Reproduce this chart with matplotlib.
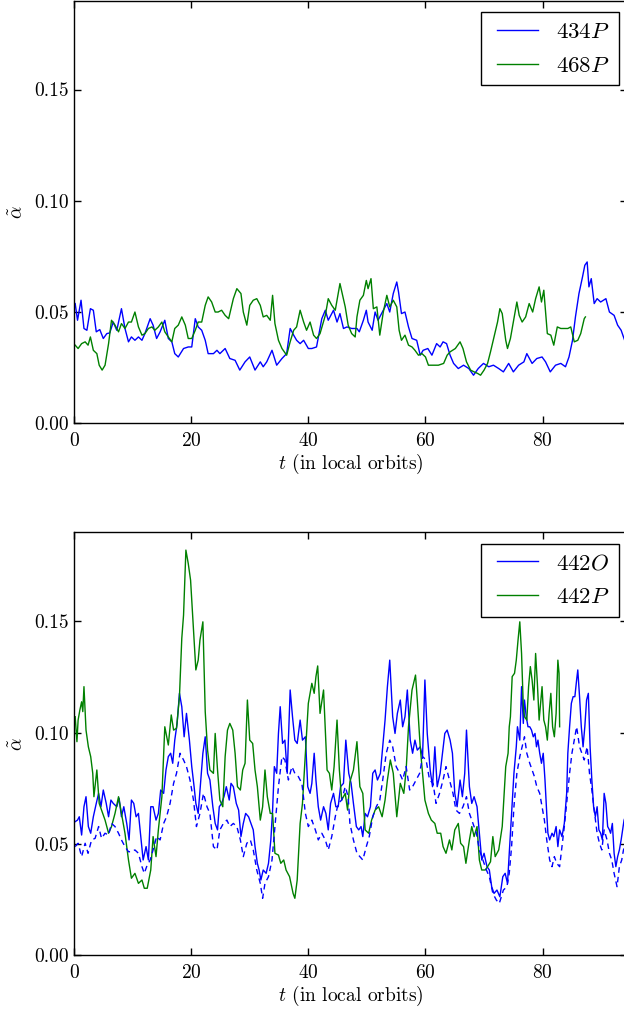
import numpy as np
import matplotlib
matplotlib.use('Agg')
import matplotlib.pyplot as plt
from matplotlib.ticker import FormatStrFormatter
from matplotlib.legend_handler import HandlerLine2D
from matplotlib.lines import Line2D

plt.rcParams['font.family'] = 'serif'
plt.rcParams['font.serif'] = ['cmr10']
plt.rcParams['mathtext.fontset'] = 'cm'
plt.rcParams['axes.formatter.use_mathtext'] = True

# ---- top panel: 434P and 468P ----
t_434 = [0.2,0.6,1.2,1.7,2.2,2.8,3.3,3.8,4.4,5.0,
         5.6,6.1,6.7,7.3,8.1,8.7,9.3,9.8,10.4,11.0,
         11.6,12.1,13.0,13.5,14.1,14.7,15.5,16.1,16.7,17.2,
         17.8,18.7,19.5,20.1,20.7,21.2,21.8,22.4,22.9,23.8,
         24.4,24.9,25.8,26.6,27.5,28.3,29.2,30.0,30.9,31.8,
         32.3,32.9,33.8,34.6,35.5,36.3,36.9,37.5,38.0,38.6,
         39.2,40.0,40.6,41.4,42.3,42.9,43.4,44.3,44.9,45.4,
         46.0,46.6,47.4,48.3,48.7,49.4,49.9,50.2,50.9,51.4,
         51.9,52.5,53.4,53.9,54.5,55.1,55.4,55.9,56.5,57.1,
         57.7,58.5,59.1,59.6,60.4,61.1,61.9,62.5,63.0,63.6,
         64.2,64.8,65.6,66.5,67.4,68.2,69.0,69.9,70.8,71.6,
         72.5,73.3,74.2,75.0,75.9,76.8,77.3,78.2,79.0,79.9,
         80.5,81.3,82.2,83.1,83.9,84.5,85.1,85.6,86.2,86.8,
         87.2,87.6,87.9,88.3,88.8,89.3,89.9,90.8,91.4,92.2,
         92.8,93.4,94.0,94.5]
a_434 = [.0538,.0463,.0553,.0426,.0418,.0515,.0508,.0411,.0421,.0381,
         .0403,.0406,.0455,.0418,.0515,.0426,.0366,.0388,.0373,.0388,
         .0373,.0403,.0470,.0441,.0381,.0411,.0463,.0381,.0366,.0313,
         .0298,.0336,.0343,.0343,.0470,.0433,.0418,.0373,.0313,.0313,
         .0328,.0313,.0336,.0291,.0283,.0239,.0276,.0298,.0239,.0276,
         .0254,.0276,.0328,.0261,.0291,.0313,.0426,.0396,.0373,.0358,
         .0373,.0336,.0336,.0343,.0470,.0508,.0463,.0508,.0455,.0493,
         .0426,.0433,.0426,.0426,.0411,.0463,.0508,.0455,.0418,.0500,
         .0463,.0493,.0538,.0500,.0583,.0635,.0590,.0493,.0500,.0433,
         .0381,.0373,.0306,.0328,.0336,.0306,.0358,.0343,.0366,.0358,
         .0306,.0269,.0246,.0261,.0246,.0216,.0246,.0269,.0254,.0261,
         .0246,.0231,.0269,.0231,.0261,.0276,.0313,.0269,.0291,.0298,
         .0276,.0231,.0261,.0269,.0254,.0298,.0373,.0478,.0583,.0657,
         .0710,.0725,.0613,.0650,.0538,.0560,.0545,.0560,.0500,.0485,
         .0441,.0418,.0373,.0360]

t_468 = [0.2,0.7,1.3,1.9,2.4,2.8,3.3,3.9,4.3,4.8,
         5.3,5.9,6.4,7.0,7.6,8.1,8.7,9.3,9.8,10.4,
         11.0,11.6,12.1,12.7,13.3,13.8,14.4,15.0,15.5,16.1,
         16.7,17.2,17.8,18.4,19.0,19.5,20.1,20.7,21.2,21.8,
         22.4,22.9,23.5,24.1,24.6,25.2,25.8,26.4,27.2,27.8,
         28.5,28.9,29.5,30.0,30.6,31.2,31.8,32.3,32.9,33.5,
         33.9,34.3,34.9,35.5,36.3,36.9,37.5,38.0,38.6,39.2,
         39.7,40.3,40.9,41.4,42.0,42.9,43.4,44.0,44.6,45.4,
         46.3,46.8,47.4,48.0,48.3,48.8,49.4,49.9,50.2,50.7,
         51.1,51.7,52.2,52.8,53.4,53.9,54.5,55.1,55.5,55.9,
         56.5,57.1,57.7,58.2,58.8,59.4,60.0,60.5,61.4,62.2,
         63.1,63.7,64.2,65.1,65.9,66.4,67.0,67.7,68.3,68.9,
         69.4,70.0,70.6,71.1,71.7,72.3,72.7,73.1,73.7,74.0,
         74.5,75.1,75.6,76.0,76.5,77.1,77.7,78.3,78.8,79.4,
         79.8,80.2,80.8,81.4,81.9,82.5,83.1,83.7,84.3,84.8,
         85.4,86.0,86.5,87.1,87.3]
a_468 = [.0351,.0336,.0358,.0366,.0351,.0388,.0328,.0313,.0261,.0239,
         .0261,.0358,.0463,.0441,.0411,.0448,.0426,.0455,.0455,.0500,
         .0433,.0396,.0403,.0426,.0433,.0418,.0433,.0455,.0411,.0388,
         .0366,.0426,.0441,.0478,.0441,.0381,.0381,.0418,.0455,.0455,
         .0530,.0568,.0545,.0500,.0500,.0508,.0485,.0470,.0560,.0605,
         .0583,.0500,.0441,.0530,.0553,.0560,.0530,.0478,.0485,.0463,
         .0575,.0448,.0373,.0336,.0306,.0366,.0418,.0433,.0508,.0455,
         .0418,.0455,.0396,.0381,.0403,.0485,.0560,.0530,.0508,.0628,
         .0523,.0441,.0403,.0388,.0478,.0553,.0575,.0642,.0605,.0650,
         .0515,.0523,.0396,.0500,.0575,.0523,.0553,.0523,.0418,.0373,
         .0396,.0351,.0343,.0328,.0306,.0313,.0298,.0261,.0261,.0261,
         .0269,.0306,.0321,.0336,.0366,.0336,.0276,.0239,.0231,.0224,
         .0216,.0239,.0269,.0321,.0388,.0455,.0515,.0493,.0373,.0336,
         .0381,.0470,.0545,.0485,.0455,.0478,.0538,.0500,.0560,.0613,
         .0545,.0598,.0403,.0396,.0351,.0433,.0426,.0426,.0426,.0433,
         .0366,.0373,.0403,.0470,.0478]

# ---- bottom panel: 442O (solid + dashed) and 442P ----
t_442o = [0.2,0.6,0.9,1.3,1.7,2.05,2.45,2.85,3.3,3.8,
          4.2,4.6,5.0,5.5,5.9,6.3,6.7,7.3,7.7,8.1,
          8.5,9.0,9.4,9.8,10.2,10.6,11.0,11.4,11.8,12.3,
          12.7,13.1,13.5,14.0,14.4,14.8,15.3,15.7,16.1,16.5,
          16.85,17.2,17.6,18.0,18.4,18.8,19.2,19.7,20.1,20.5,
          20.8,21.2,21.6,22.0,22.4,22.8,23.2,23.7,24.1,24.5,
          24.8,25.2,25.6,26.0,26.5,26.8,27.2,27.7,28.1,28.5,
          28.9,29.3,29.8,30.2,30.6,30.9,31.3,31.6,31.9,32.3,
          32.8,33.2,33.6,33.9,34.2,34.6,34.9,35.2,35.6,36.0,
          36.4,36.9,37.3,37.7,38.1,38.6,39.0,39.5,39.9,40.3,
          40.6,41.0,41.3,41.7,42.1,42.6,43.0,43.4,43.8,44.3,
          44.7,45.1,45.5,46.0,46.4,46.9,47.3,47.7,48.2,48.6,
          49.0,49.3,49.7,50.1,50.6,51.0,51.4,51.8,52.3,52.7,
          53.1,53.5,53.9,54.4,54.8,55.2,55.7,56.1,56.5,56.9,
          57.4,57.8,58.2,58.6,59.1,59.5,59.9,60.3,60.8,61.2,
          61.6,62.0,62.5,62.9,63.3,63.7,64.2,64.6,65.0,65.4,
          65.9,66.3,66.7,67.0,67.5,67.9,68.3,68.8,69.2,69.6,
          70.0,70.5,70.9,71.3,71.7,72.2,72.7,73.2,73.6,74.0,
          74.3,74.7,75.1,75.5,75.7,76.1,76.4,76.7,76.9,77.2,
          77.5,77.8,78.1,78.4,78.7,78.95,79.2,79.5,79.8,80.1,
          80.4,80.7,80.9,81.2,81.6,81.9,82.3,82.6,82.9,83.3,
          83.7,84.1,84.3,84.6,84.9,85.2,85.5,85.8,86.0,86.3,
          86.6,86.9,87.2,87.5,87.8,88.1,88.4,88.7,89.0,89.3,
          89.6,89.9,90.2,90.5,90.8,91.1,91.4,91.6,91.9,92.2,
          92.5,92.8,93.1,93.4,93.9,94.5]
a_442o = [.0600,.0607,.0622,.0540,.0667,.0712,.0578,.0548,.0622,.0682,
          .0727,.0667,.0742,.0682,.0622,.0697,.0682,.0667,.0705,.0622,
          .0667,.0592,.0518,.0697,.0682,.0622,.0637,.0533,.0428,.0488,
          .0428,.0667,.0667,.0607,.0637,.0742,.0727,.0832,.0892,.0907,
          .0862,.0966,.1041,.1176,.1116,.0981,.1086,.0966,.0847,.0757,
          .0682,.0637,.0772,.0907,.0981,.0817,.0787,.0667,.0592,.0563,
          .0667,.0682,.0712,.0757,.0697,.0772,.0757,.0682,.0652,.0533,
          .0592,.0637,.0622,.0592,.0563,.0488,.0413,.0383,.0338,.0383,
          .0368,.0413,.0518,.0652,.0847,.0817,.0996,.1116,.0951,.0966,
          .0817,.1191,.1071,.0966,.0951,.1056,.0966,.0981,.0757,.0727,
          .0772,.0907,.0787,.0667,.0607,.0667,.0637,.0563,.0682,.0727,
          .0667,.0667,.0757,.0772,.0966,.0817,.0772,.0682,.0578,.0563,
          .0578,.0533,.0637,.0622,.0667,.0817,.0832,.0787,.0817,.0936,
          .1056,.1206,.1325,.1071,.0996,.1086,.1146,.1026,.1071,.1191,
          .0966,.0907,.0966,.0921,.0936,.0892,.1236,.0996,.0832,.0757,
          .0936,.0757,.0817,.0907,.0996,.1011,.0966,.0907,.0727,.0667,
          .0787,.0712,.0817,.1011,.0757,.0682,.0712,.0667,.0548,.0428,
          .0458,.0398,.0383,.0308,.0278,.0293,.0263,.0353,.0368,.0323,
          .0458,.0637,.0817,.0936,.1026,.0966,.1206,.1041,.1146,.1071,
          .1026,.1026,.1011,.0981,.0996,.0936,.0966,.0907,.0862,.0907,
          .0787,.0637,.0548,.0518,.0548,.0533,.0578,.0488,.0563,.0533,
          .0592,.0727,.0907,.1026,.1131,.1161,.1161,.1236,.1281,.1161,
          .1026,.0936,.1026,.1146,.1176,.0936,.0787,.0667,.0622,.0667,
          .0563,.0548,.0518,.0727,.0682,.0578,.0563,.0548,.0592,.0458,
          .0398,.0443,.0473,.0518,.0607,.0650]

t_442o_d = [0.2,0.7,1.3,1.9,2.4,3.0,3.6,4.2,4.7,5.3,
            5.9,6.4,7.0,7.6,8.1,8.7,9.3,9.8,10.4,11.0,
            11.6,12.0,12.4,13.0,13.5,14.1,14.7,15.3,15.8,16.4,
            17.0,17.5,18.1,18.7,19.2,19.8,20.4,20.9,21.5,22.1,
            22.7,23.2,23.8,24.4,24.9,25.5,26.1,26.6,27.2,27.8,
            28.4,28.9,29.5,30.1,30.6,31.2,31.8,32.2,32.6,33.2,
            33.8,34.3,34.9,35.5,36.0,36.6,37.2,37.7,38.3,38.9,
            39.5,40.0,40.6,41.2,41.7,42.3,42.9,43.4,44.0,44.6,
            45.1,45.7,46.3,46.8,47.1,47.7,48.3,48.8,49.3,49.9,
            50.4,51.0,51.6,52.2,52.7,53.3,53.9,54.4,55.0,55.6,
            56.1,56.7,57.3,57.8,58.4,59.0,59.5,60.1,60.7,61.3,
            61.8,62.4,63.0,63.5,64.1,64.7,65.2,65.8,66.4,67.0,
            67.5,68.1,68.7,69.2,69.8,70.4,70.9,71.5,72.1,72.6,
            73.3,73.9,74.3,74.7,75.1,75.6,76.1,76.5,76.9,77.3,
            77.8,78.2,78.6,79.0,79.5,79.9,80.3,80.7,81.2,81.6,
            82.0,82.4,82.9,83.3,83.7,84.1,84.6,85.0,85.4,85.8,
            86.3,86.7,87.1,87.6,88.0,88.4,88.8,89.3,89.7,90.1,
            90.5,91.0,91.4,91.8,92.2,92.7,93.1,93.5,93.8,94.5]
a_442o_d = [.0488,.0503,.0443,.0503,.0458,.0518,.0525,.0578,.0525,.0548,
            .0540,.0592,.0578,.0548,.0518,.0488,.0465,.0465,.0473,.0458,
            .0398,.0368,.0398,.0428,.0473,.0533,.0518,.0592,.0622,.0682,
            .0772,.0817,.0907,.0877,.0847,.0787,.0697,.0578,.0637,.0727,
            .0667,.0637,.0488,.0473,.0563,.0592,.0607,.0578,.0592,.0578,
            .0518,.0443,.0503,.0518,.0473,.0383,.0323,.0256,.0323,.0353,
            .0428,.0578,.0757,.0892,.0877,.0787,.0847,.0817,.0802,.0772,
            .0637,.0578,.0607,.0563,.0518,.0548,.0518,.0473,.0533,.0622,
            .0682,.0697,.0757,.0712,.0592,.0518,.0458,.0443,.0428,.0488,
            .0533,.0622,.0667,.0697,.0787,.0907,.0966,.0936,.0847,.0817,
            .0787,.0847,.0742,.0757,.0787,.0817,.0892,.0877,.0787,.0772,
            .0682,.0727,.0787,.0847,.0787,.0727,.0652,.0637,.0667,.0712,
            .0637,.0592,.0548,.0473,.0428,.0383,.0353,.0278,.0248,.0233,
            .0293,.0308,.0368,.0488,.0667,.0817,.0892,.0936,.0981,.0907,
            .0862,.0832,.0802,.0757,.0727,.0667,.0607,.0518,.0428,.0398,
            .0443,.0413,.0398,.0488,.0578,.0682,.0817,.0907,.0966,.1026,
            .0936,.0907,.0877,.0936,.0817,.0742,.0652,.0548,.0503,.0473,
            .0563,.0518,.0458,.0428,.0368,.0308,.0398,.0428,.0473,.0520]

t_442p = [0.2,0.5,0.7,1.0,1.3,1.5,1.7,2.05,2.45,2.85,
          3.2,3.4,3.9,4.3,4.7,5.3,5.9,6.4,7.0,7.6,
          8.1,8.7,9.3,9.8,10.4,11.0,11.6,12.0,12.5,13.1,
          13.5,14.0,14.4,15.0,15.5,16.1,16.6,17.0,17.5,18.0,
          18.4,18.7,19.1,19.5,19.9,20.4,20.8,21.2,21.5,22.0,
          22.4,22.8,23.2,23.8,24.1,24.5,24.9,25.4,25.8,26.2,
          26.6,27.1,27.5,27.9,28.4,28.8,29.2,29.6,30.0,30.5,
          30.9,31.3,31.8,32.2,32.6,33.0,33.5,33.9,34.3,34.9,
          35.3,35.8,36.2,36.8,37.4,37.7,38.1,38.6,39.0,39.5,
          40.0,40.6,41.0,41.3,41.6,42.0,42.6,43.2,43.6,44.0,
          44.4,44.9,45.3,45.7,46.3,46.7,47.1,47.7,48.3,48.8,
          49.3,49.7,50.3,50.8,51.4,52.0,52.6,53.1,53.5,54.0,
          54.5,55.1,55.7,56.3,56.7,57.1,57.7,58.3,58.6,59.1,
          59.5,59.9,60.5,61.0,61.6,62.0,62.6,63.0,63.5,64.1,
          64.5,65.0,65.6,66.0,66.5,66.9,67.5,67.9,68.3,68.8,
          69.2,69.6,70.2,70.6,71.1,71.5,71.9,72.5,73.1,73.7,
          74.1,74.3,74.5,74.8,75.2,75.5,75.8,76.1,76.4,76.7,
          76.9,77.3,77.6,77.9,78.2,78.5,78.8,79.1,79.4,79.7,
          79.9,80.2,80.5,80.8,81.1,81.4,81.7,82.0,82.3,82.6,
          82.8,82.9]
a_442p = [.1071,.0959,.1056,.1101,.1138,.1094,.1206,.1011,.0936,.0892,
          .0817,.0712,.0832,.0682,.0652,.0607,.0548,.0578,.0637,.0712,
          .0637,.0548,.0428,.0346,.0368,.0323,.0338,.0301,.0301,.0383,
          .0533,.0443,.0563,.0712,.1026,.0944,.1079,.1011,.1019,.1161,
          .1423,.1527,.1819,.1759,.1684,.1460,.1281,.1325,.1415,.1497,
          .1094,.0921,.0832,.0817,.0996,.0832,.0697,.0667,.0892,.1011,
          .1041,.1011,.0907,.0757,.0742,.0832,.0862,.1146,.0966,.0951,
          .0832,.0757,.0607,.0667,.0832,.0712,.0637,.0637,.0458,.0450,
          .0413,.0428,.0383,.0353,.0278,.0256,.0338,.0592,.0682,.0907,
          .1131,.1221,.1176,.1251,.1299,.1086,.1191,.0832,.0817,.0742,
          .0847,.1056,.0832,.0697,.0727,.0652,.0779,.0832,.0959,.0757,
          .0727,.0563,.0548,.0607,.0652,.0667,.0622,.0697,.0787,.0877,
          .0817,.0622,.0772,.0727,.0832,.1026,.1191,.1258,.1146,.0936,
          .0817,.0697,.0637,.0607,.0592,.0548,.0548,.0488,.0458,.0518,
          .0473,.0563,.0592,.0503,.0488,.0413,.0518,.0578,.0533,.0578,
          .0428,.0383,.0383,.0398,.0420,.0533,.0443,.0473,.0578,.0847,
          .0907,.1026,.1071,.1251,.1266,.1325,.1415,.1497,.1355,.1116,
          .1071,.1056,.1206,.1296,.1236,.1146,.1355,.1221,.1056,.1146,
          .1206,.1056,.1026,.0966,.1086,.1176,.1026,.0981,.1086,.1325,
          .1266,.1026]

xticks = [0, 20, 40, 60, 80]
yticks = [0.00, 0.05, 0.10, 0.15]

fig = plt.figure(figsize=(6.24, 10.09), dpi=100)
ax1 = fig.add_axes([0.1186, 0.5805, 0.8862, 0.4190])
ax2 = fig.add_axes([0.1186, 0.0532, 0.8862, 0.4195])

ax1.plot(t_434, a_434, color='b', lw=1.0, label='$434P$')
ax1.plot(t_468, a_468, color='g', lw=1.0, label='$468P$')

ax2.plot(t_442o, a_442o, color='b', lw=1.0, label='$442O$')
ax2.plot(t_442p, a_442p, color='g', lw=1.0, label='$442P$')
ax2.plot(t_442o_d, a_442o_d, color='b', lw=1.0, dashes=(4, 3))

for ax in (ax1, ax2):
    ax.set_xlim(0, 94.4)
    ax.set_ylim(0, 0.19)
    ax.set_xticks(xticks)
    ax.set_yticks(yticks)
    ax.yaxis.set_major_formatter(FormatStrFormatter('%.2f'))
    ax.tick_params(direction='in', top=True, right=True, length=5, width=1,
                   labelsize=14)
    ax.tick_params(axis='x', pad=6)
    ax.tick_params(axis='y', pad=4)
    for s in ax.spines.values():
        s.set_linewidth(1.0)
    ax.set_xlabel('$t$ (in local orbits)', fontsize=14)
    ax.set_ylabel(r'$\tilde{\alpha}$', fontsize=14)
    ax.xaxis.set_label_coords(0.5, -0.068)
    ax.yaxis.set_label_coords(-0.087, 0.5)
    leg = ax.legend(loc='upper right', bbox_to_anchor=(0.9855, 0.972),
                    borderaxespad=0, fontsize=16.5, handlelength=2.1,
                    handletextpad=0.8, labelspacing=0.62, fancybox=False,
                    framealpha=1,
                    handler_map={Line2D: HandlerLine2D(xpad=0.33)})
    leg.get_frame().set_edgecolor('k')
    leg.get_frame().set_linewidth(1.0)

fig.savefig('out.png', dpi=100)
